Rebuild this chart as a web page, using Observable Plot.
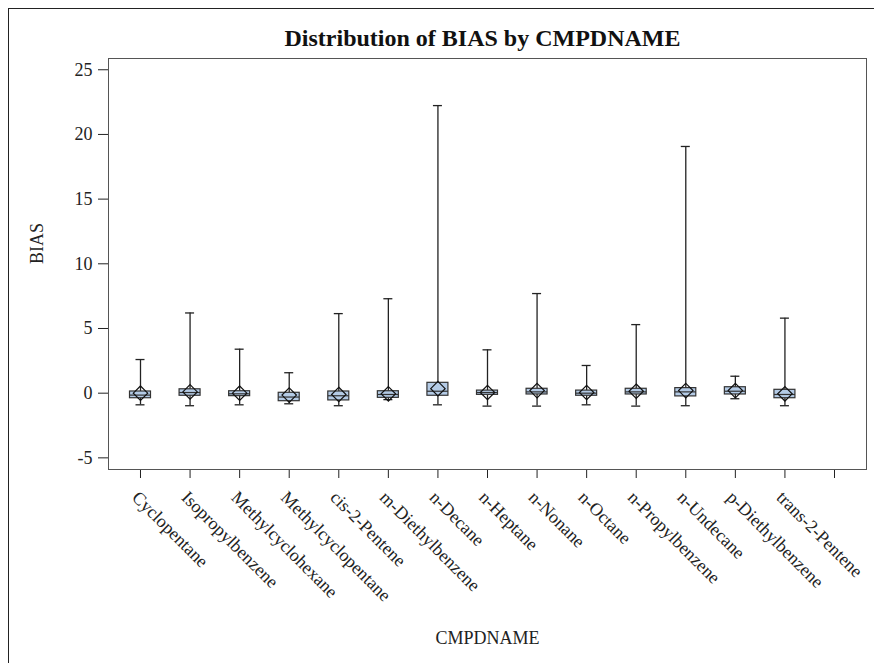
<!DOCTYPE html>
<html>
<head>
<meta charset="utf-8">
<script src="https://cdn.jsdelivr.net/npm/d3@7"></script>
<script src="https://cdn.jsdelivr.net/npm/@observablehq/plot@0.6"></script>
<style>
  html, body { margin: 0; padding: 0; background: white; overflow: hidden; }
  #wrap { position: relative; width: 874px; height: 663px; overflow: hidden; }
  #border { position: absolute; left: 8px; top: 8px; width: 1000px; height: 1000px; border: 1.5px solid #222; box-sizing: border-box; pointer-events: none; }
  #wrap svg text { font-family: 'Liberation Serif', 'Times New Roman', serif !important; }
  #wrap svg g[aria-label^="y-axis"] path.domain, #wrap svg g[aria-label^="x-axis"] path.domain { stroke-width: 1.8px; }
</style>
</head>
<body>
<div id="wrap"><div id="border"></div></div>
<script>
const categories = ["Cyclopentane","Isopropylbenzene","Methylcyclohexane","Methylcyclopentane","cis-2-Pentene","m-Diethylbenzene","n-Decane","n-Heptane","n-Nonane","n-Octane","n-Propylbenzene","n-Undecane","p-Diethylbenzene","trans-2-Pentene",""];
const maxV   = [2.6, 6.2, 3.4, 1.58, 6.15, 7.3, 22.23, 3.35, 7.7, 2.14, 5.3, 19.07, 1.31, 5.8];
const q3V    = [0.13, 0.3, 0.15, 0.03, 0.13, 0.15, 0.8, 0.2, 0.34, 0.2, 0.34, 0.39, 0.46, 0.26];
const medV   = [-0.15, 0.05, -0.05, -0.3, -0.2, -0.1, 0.15, 0.05, 0.1, 0.0, 0.1, 0.1, 0.15, -0.1];
const meanV  = [0.0, 0.1, 0.0, -0.15, -0.1, -0.05, 0.35, 0.05, 0.2, 0.05, 0.15, 0.2, 0.2, -0.05];
const q1V    = [-0.39, -0.2, -0.23, -0.62, -0.56, -0.36, -0.2, -0.13, -0.1, -0.2, -0.1, -0.25, -0.1, -0.39];
const minV   = [-0.9, -0.97, -0.9, -0.82, -0.97, -0.5, -0.9, -1.0, -1.0, -0.9, -1.0, -0.97, -0.43, -0.97];
const yTicks = [-5, 0, 5, 10, 15, 20, 25];
const yTickLabels = ["-5", "0", "5", "10", "15", "20", "25"];
const titleText = "Distribution of BIAS by CMPDNAME";
const xLabel = "CMPDNAME";
const yLabel = "BIAS";

const rows = maxV.map((_, i) => ({
  c: categories[i], max: maxV[i], q3: q3V[i], med: medV[i], mean: meanV[i], q1: q1V[i], min: minV[i]
}));

const chart = Plot.plot({
  width: 874,
  height: 663,
  marginLeft: 108,
  marginRight: 8,
  marginTop: 58,
  marginBottom: 194,
  style: { fontFamily: "'Liberation Serif', 'Times New Roman', serif", fontSize: "18px", color: "#222", background: "transparent" },
  x: { type: "band", domain: categories, round: false, paddingInner: 0.5764, paddingOuter: 0.4337, tickSize: 9, tickFormat: () => "", label: null, line: true },
  y: { domain: [-5.9, 25.87], ticks: yTicks, tickSize: 10, tickPadding: 6, tickFormat: () => "", label: null, line: true },
  marks: [
    Plot.frame({ stroke: "#555" }),
    Plot.ruleX(rows, { x: "c", y1: "min", y2: "q1", stroke: "#222", strokeWidth: 1.3 }),
    Plot.ruleX(rows, { x: "c", y1: "q3", y2: "max", stroke: "#222", strokeWidth: 1.3 }),
    Plot.tickY(rows, { x: "c", y: "max", insetLeft: 6, insetRight: 6, stroke: "#222", strokeWidth: 1.3 }),
    Plot.tickY(rows, { x: "c", y: "min", insetLeft: 6, insetRight: 6, stroke: "#222", strokeWidth: 1.3 }),
    Plot.barY(rows, { x: "c", y1: "q1", y2: "q3", fill: "#b4cbe6", stroke: "#333", strokeWidth: 1.2 }),
    Plot.tickY(rows, { x: "c", y: "med", stroke: "#333", strokeWidth: 1.2 }),
    Plot.dot(rows, { x: "c", y: "mean", symbol: "diamond2", r: 6.5, stroke: "#111", fill: "none", strokeWidth: 1.2 }),
    Plot.text(yTicks, { y: d => d, text: (d, i) => yTickLabels[i], frameAnchor: "left", textAnchor: "end", dx: -16, fontSize: 18, fill: "#222" }),
    Plot.text(categories, { x: d => d, text: d => d, frameAnchor: "bottom", rotate: 45, textAnchor: "start", dx: -9.5, dy: 29, fontSize: 18, fill: "#222" }),
    Plot.text([titleText], { frameAnchor: "top", dx: -5, dy: -13, lineAnchor: "bottom", fontSize: 24, fontWeight: "bold", fill: "#111" }),
    Plot.text([xLabel], { frameAnchor: "bottom", dy: 174, fontSize: 18, fill: "#222" }),
    Plot.text([yLabel], { frameAnchor: "left", dx: -71, rotate: -90, fontSize: 18, fill: "#222" })
  ]
});
document.getElementById("wrap").appendChild(chart);
chart.style.position = "absolute";
chart.style.left = "0px";
chart.style.top = "0px";
</script>
</body>
</html>
